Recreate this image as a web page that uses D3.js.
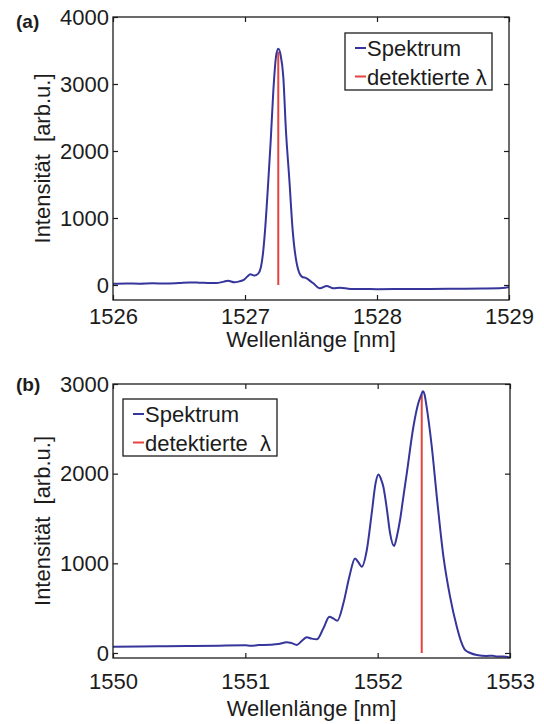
<!DOCTYPE html>
<html>
<head>
<meta charset="utf-8">
<script src="https://cdn.jsdelivr.net/npm/d3@7"></script>
<style>
  body { margin: 0; background: #fff; }
  svg { display: block; font-family: "Liberation Sans", Arial, sans-serif; }
</style>
</head>
<body>
<div id="chart"></div>
<script>
// panel (a) spectrum
var waveA = [1526.00, 1526.10, 1526.20, 1526.30, 1526.40, 1526.50, 1526.58, 1526.65, 1526.72, 1526.78,
  1526.84, 1526.87, 1526.92, 1526.96, 1526.99, 1527.02, 1527.04, 1527.07, 1527.10, 1527.12,
  1527.135, 1527.152, 1527.177, 1527.195, 1527.215, 1527.235, 1527.252, 1527.27, 1527.29, 1527.31,
  1527.336, 1527.361, 1527.392, 1527.43, 1527.467, 1527.50, 1527.517, 1527.568, 1527.619, 1527.669,
  1527.72, 1527.80, 1527.90, 1528.00, 1528.20, 1528.40, 1528.60, 1528.80, 1528.95, 1529.00];
var intenA = [18, 22, 20, 25, 22, 30, 38, 35, 30, 28,
  50, 64, 40, 55, 75, 130, 160, 140, 170, 260,
  450, 820, 1570, 2160, 2910, 3410, 3525, 3430, 3110, 2310,
  1570, 820, 320, 125, 100, 50, 25, -50, -15, -50,
  -40, -60, -58, -62, -60, -58, -55, -52, -45, -30];
var peakA = 1527.252, peakHeightA = 3480;

// panel (b) spectrum
var waveB = [1550.00, 1550.20, 1550.40, 1550.60, 1550.80, 1551.00, 1551.04, 1551.10, 1551.187, 1551.25,
  1551.313, 1551.35, 1551.388, 1551.43, 1551.464, 1551.50, 1551.54, 1551.59, 1551.635, 1551.665,
  1551.695, 1551.741, 1551.786, 1551.829, 1551.855, 1551.88, 1551.918, 1551.955, 1551.985, 1552.006,
  1552.025, 1552.043, 1552.07, 1552.094, 1552.124, 1552.145, 1552.169, 1552.195, 1552.22, 1552.27,
  1552.308, 1552.33, 1552.341, 1552.355, 1552.366, 1552.409, 1552.447, 1552.497, 1552.547, 1552.598,
  1552.63, 1552.66, 1552.70, 1552.749, 1552.824, 1552.87, 1552.90, 1552.95, 1553.00];
var intenB = [70, 72, 75, 78, 82, 85, 80, 88, 92, 100,
  120, 110, 90, 140, 175, 160, 152, 275, 405, 385,
  360, 554, 851, 1055, 1010, 962, 1148, 1557, 1900, 1990,
  1940, 1854, 1600, 1334, 1193, 1300, 1483, 1750, 2003, 2523,
  2790, 2880, 2920, 2880, 2784, 2300, 1742, 1074, 628, 293,
  130, 35, 0, -22, -33, -30, -40, -38, -50];
var peakB = 1552.333, peakHeightB = 2880;

var xTicksA = [1526, 1527, 1528, 1529];
var yTicksA = [0, 1000, 2000, 3000, 4000];
var xTicksB = [1550, 1551, 1552, 1553];
var yTicksB = [0, 1000, 2000, 3000];
var legendLabels = ["Spektrum", "detektierte \u03bb"];

var blue = "#35359c", red = "#e5433b", ink = "#1c1c1c";

var svg = d3.select("#chart").append("svg")
  .attr("width", 544)
  .attr("height", 724);

function drawPanel(p) {
  var x = d3.scaleLinear().domain(p.xDomain).range([p.left, p.right]);
  var y = d3.scaleLinear().domain(p.yDomain).range([p.bottom, p.top]);
  var g = svg.append("g");

  // inward ticks, matlab style
  g.append("g").attr("transform", "translate(0," + p.bottom + ")")
    .call(d3.axisBottom(x).tickValues(p.xTicks).tickSizeInner(-5).tickSizeOuter(0).tickPadding(p.xPad).tickFormat(d3.format("d")));
  g.append("g").attr("transform", "translate(0," + p.top + ")")
    .call(d3.axisTop(x).tickValues(p.xTicks).tickSizeInner(-5).tickSizeOuter(0).tickFormat(""));
  g.append("g").attr("transform", "translate(" + p.left + ",0)")
    .call(d3.axisLeft(y).tickValues(p.yTicks).tickSizeInner(-5).tickSizeOuter(0).tickPadding(4).tickFormat(d3.format("d")));
  g.append("g").attr("transform", "translate(" + p.right + ",0)")
    .call(d3.axisRight(y).tickValues(p.yTicks).tickSizeInner(-5).tickSizeOuter(0).tickFormat(""));

  g.selectAll(".domain").remove();
  g.selectAll(".tick line").attr("stroke", ink).attr("stroke-width", 1.2);
  g.selectAll(".tick text").attr("font-size", 22).attr("fill", ink)
    .attr("font-family", "'Liberation Sans', Arial, sans-serif");

  var pts = p.wave.map(function(w, i) { return [w, p.inten[i]]; });
  var line = d3.line()
    .x(function(d) { return x(d[0]); })
    .y(function(d) { return y(d[1]); })
    .curve(d3.curveMonotoneX);

  g.append("line")
    .attr("x1", x(p.peak)).attr("x2", x(p.peak))
    .attr("y1", y(0)).attr("y2", y(p.peakHeight))
    .attr("stroke", red).attr("stroke-width", 2);

  g.append("path").datum(pts)
    .attr("d", line)
    .attr("fill", "none")
    .attr("stroke", blue)
    .attr("stroke-width", 2);

  g.append("rect")
    .attr("x", p.left).attr("y", p.top)
    .attr("width", p.right - p.left).attr("height", p.bottom - p.top)
    .attr("fill", "none").attr("stroke", ink).attr("stroke-width", 1.3);

  g.append("text")
    .attr("x", (p.left + p.right) / 2).attr("y", p.xTitleY)
    .attr("text-anchor", "middle").attr("font-size", 22).attr("fill", ink)
    .text("Wellenl\u00e4nge [nm]");

  g.append("text")
    .attr("transform", "translate(" + 50 + "," + (p.top + p.bottom) / 2 + ") rotate(-90)")
    .attr("text-anchor", "middle").attr("font-size", 22).attr("fill", ink)
    .attr("xml:space", "preserve")
    .text("Intensit\u00e4t  [arb.u.]");

  g.append("text")
    .attr("x", 16).attr("y", p.tagY)
    .attr("font-size", 19).attr("font-weight", "bold").attr("fill", ink)
    .text(p.tag);

  // legend
  var lg = g.append("g");
  lg.append("rect")
    .attr("x", p.legX).attr("y", p.legY)
    .attr("width", p.legW).attr("height", 57)
    .attr("fill", "#fff").attr("stroke", ink).attr("stroke-width", 1.3);
  [blue, red].forEach(function(c, i) {
    var cy = p.legY + 15 + i * 28.5;
    lg.append("line")
      .attr("x1", p.legX + 10).attr("x2", p.legX + 21)
      .attr("y1", cy).attr("y2", cy)
      .attr("stroke", c).attr("stroke-width", 2);
    lg.append("text")
      .attr("x", p.legX + 22).attr("y", cy + 8)
      .attr("font-size", 22).attr("fill", ink)
      .attr("xml:space", "preserve")
      .text(p.legendText[i]);
  });
}

drawPanel({
  tag: "(a)", tagY: 28,
  left: 113, right: 509, top: 17, bottom: 300,
  xDomain: [1526, 1529], yDomain: [-224, 4000],
  xTicks: xTicksA, yTicks: yTicksA, xPad: 8, xTitleY: 347,
  wave: waveA, inten: intenA, peak: peakA, peakHeight: peakHeightA,
  legX: 345, legY: 33, legW: 147,
  legendText: [legendLabels[0], legendLabels[1]]
});

drawPanel({
  tag: "(b)", tagY: 391,
  left: 113, right: 510, top: 384, bottom: 658,
  xDomain: [1550, 1553], yDomain: [-56, 3000],
  xTicks: xTicksB, yTicks: yTicksB, xPad: 15, xTitleY: 716,
  wave: waveB, inten: intenB, peak: peakB, peakHeight: peakHeightB,
  legX: 123, legY: 399, legW: 154,
  legendText: [legendLabels[0], "detektierte  \u03bb"]
});
</script>
</body>
</html>
